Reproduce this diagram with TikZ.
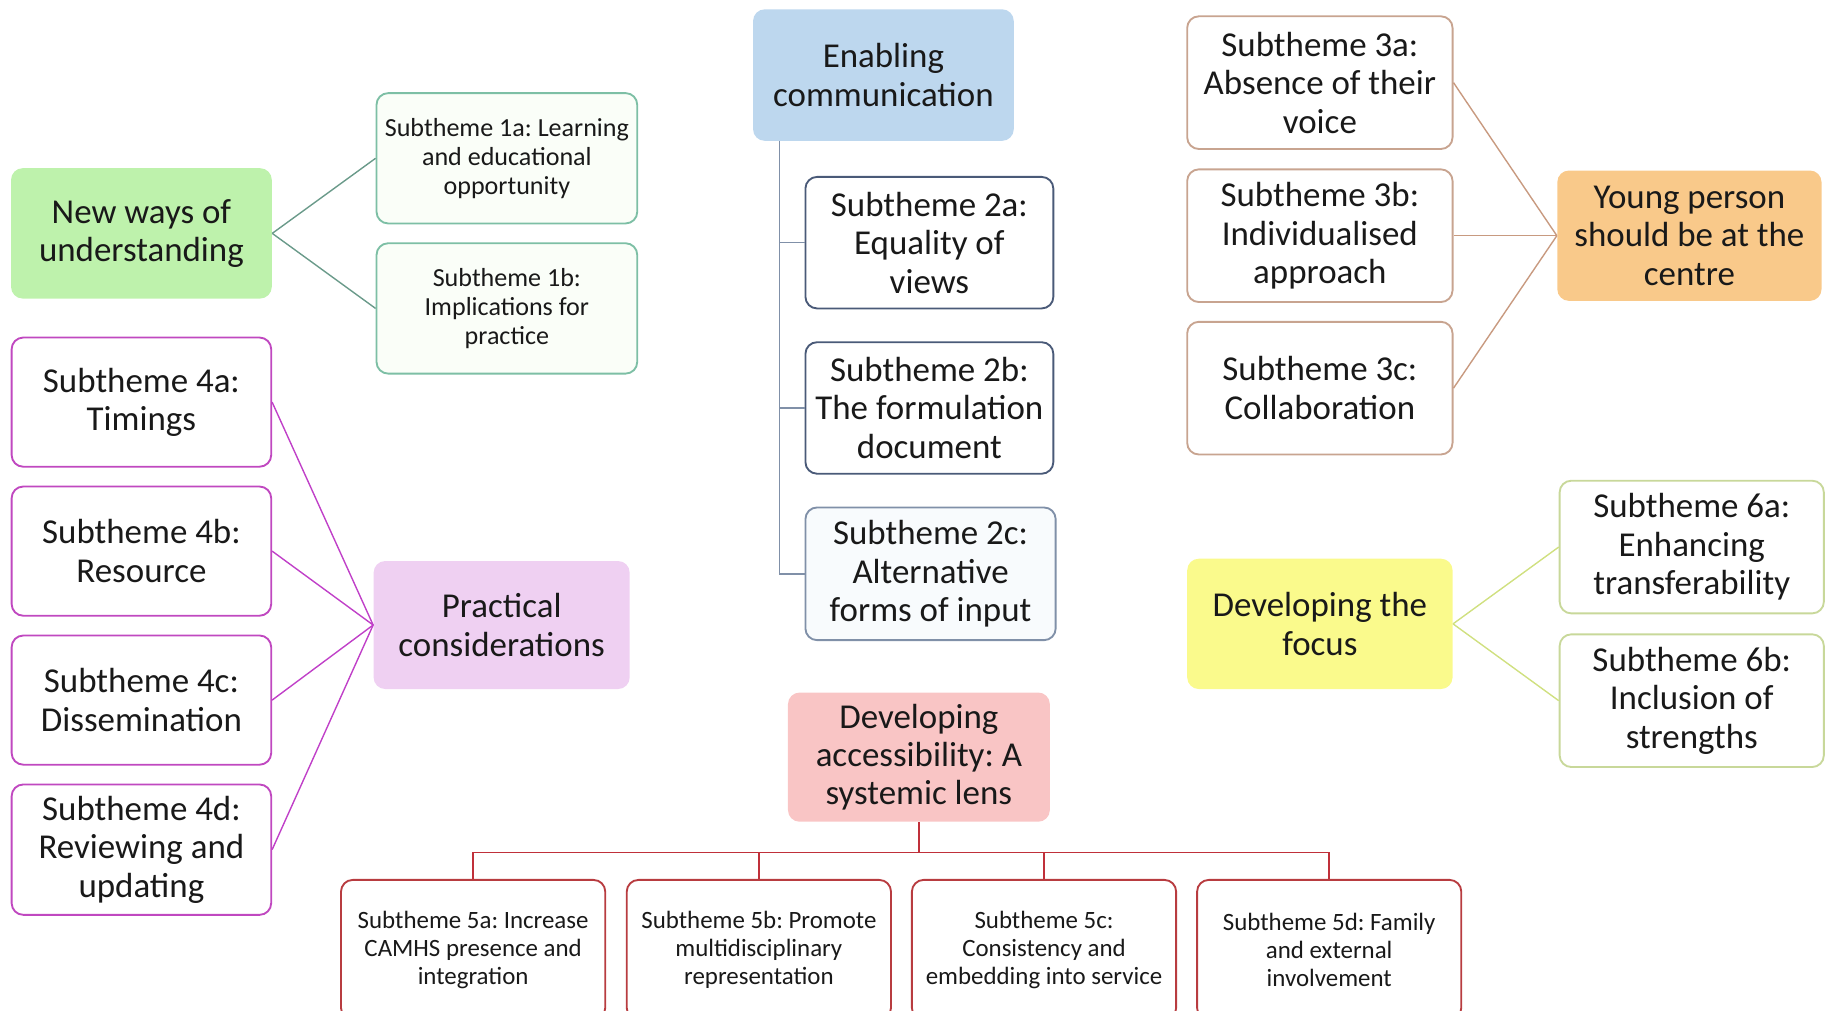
\documentclass[tikz,border=0pt]{standalone}
\usepackage{fontspec}
\setmainfont{Carlito}
\usetikzlibrary{calc}
\frenchspacing
\definecolor{gfill}{RGB}{190,242,172}
\definecolor{gbord}{RGB}{125,191,165}
\definecolor{gline}{RGB}{106,154,138}
\definecolor{bfill}{RGB}{189,215,238}
\definecolor{bbord}{RGB}{74,90,120}
\definecolor{bline}{RGB}{128,144,168}
\definecolor{ofill}{RGB}{249,201,138}
\definecolor{obord}{RGB}{200,164,144}
\definecolor{oline}{RGB}{200,154,128}
\definecolor{pfill}{RGB}{239,208,242}
\definecolor{pbord}{RGB}{192,72,192}
\definecolor{pline}{RGB}{192,64,200}
\definecolor{rfill}{RGB}{249,197,197}
\definecolor{rbord}{RGB}{184,60,64}
\definecolor{rline}{RGB}{192,48,58}
\definecolor{yfill}{RGB}{250,250,140}
\definecolor{ybord}{RGB}{200,216,154}
\definecolor{yline}{RGB}{208,224,128}
\definecolor{txt}{RGB}{25,25,25}
\tikzset{
  base/.style={rounded corners=5pt, align=center, inner sep=0pt, text=txt,
     font=\fontsize{15}{16.5}\selectfont\frenchspacing},
  theme/.style={base, minimum width=112pt, minimum height=56pt},
  sub/.style={base, draw, line width=0.8pt, fill=white, minimum width=112pt, minimum height=56pt},
  smallsub/.style={sub, font=\fontsize{11.2}{12.5}\selectfont\frenchspacing},
  tinysub/.style={sub, font=\fontsize{10.7}{12}\selectfont\frenchspacing, minimum width=113.5pt, minimum height=60pt},
  conn/.style={line width=0.6pt},
}
\begin{document}
\begin{tikzpicture}[x=0.5pt,y=-0.5pt]
\useasboundingbox (0,0) rectangle (1568,868);
\clip (0,0) rectangle (1568,868);

% Theme 1
\node[theme, fill=gfill] (t1) at (121.5,200.5) {New ways of\\understanding};
\node[smallsub, draw=gbord, fill=gfill!8] (s1a) at (435.5,136) {Subtheme 1a: Learning\\and educational\\opportunity};
\node[smallsub, draw=gbord, fill=gfill!8] (s1b) at (435.5,265) {Subtheme 1b:\\Implications for\\practice};
\draw[conn, gline] (t1.east) -- (s1a.west);
\draw[conn, gline] (t1.east) -- (s1b.west);

% Theme 2
\node[theme, fill=bfill, minimum height=56.5pt] (t2) at (759,64.5) {Enabling\\communication};
\node[sub, draw=bbord, minimum width=106.5pt, minimum height=56.5pt] (s2a) at (798.5,208.5) {Subtheme 2a:\\Equality of\\views};
\node[sub, draw=bbord, minimum width=106.5pt, minimum height=56.5pt] (s2b) at (798.5,350.5) {Subtheme 2b:\\The formulation\\document};
\node[sub, draw=bline, fill=bfill!10, minimum width=107.5pt, minimum height=57pt] (s2c) at (799.5,493) {Subtheme 2c:\\Alternative\\forms of input};
\coordinate (t2b) at ($(t2.south west)+(23,0)$);
\draw[conn, bline] (t2b) |- (s2a.west);
\draw[conn, bline] (t2b) |- (s2b.west);
\draw[conn, bline] (t2b) |- (s2c.west);

% Theme 3
\node[theme, fill=ofill, minimum width=113.5pt] (t3) at (1451.5,202.5) {Young person\\should be at the\\centre};
\node[sub, draw=obord, minimum width=114pt, minimum height=57pt] (s3a) at (1134,71) {Subtheme 3a:\\Absence of their\\voice};
\node[sub, draw=obord, minimum width=114pt, minimum height=57pt] (s3b) at (1134,202.5) {Subtheme 3b:\\Individualised\\approach};
\node[sub, draw=obord, minimum width=114pt, minimum height=57pt] (s3c) at (1134,333.5) {Subtheme 3c:\\Collaboration};
\draw[conn, oline] (t3.west) -- (s3a.east);
\draw[conn, oline] (t3.west) -- (s3b.east);
\draw[conn, oline] (t3.west) -- (s3c.east);

% Theme 4
\node[theme, fill=pfill, minimum width=110pt, minimum height=55pt] (t4) at (431,537) {Practical\\considerations};
\node[sub, draw=pbord, minimum width=111.5pt, minimum height=55.5pt] (s4a) at (121.5,345.5) {Subtheme 4a:\\Timings};
\node[sub, draw=pbord, minimum width=111.5pt, minimum height=55.5pt] (s4b) at (121.5,473.5) {Subtheme 4b:\\Resource};
\node[sub, draw=pbord, minimum width=111.5pt, minimum height=55.5pt] (s4c) at (121.5,601.5) {Subtheme 4c:\\Dissemination};
\node[sub, draw=pbord, minimum width=111.5pt, minimum height=56pt] (s4d) at (121.5,730) {Subtheme 4d:\\Reviewing and\\updating};
\draw[conn, pline] (t4.west) -- (s4a.east);
\draw[conn, pline] (t4.west) -- (s4b.east);
\draw[conn, pline] (t4.west) -- (s4c.east);
\draw[conn, pline] (t4.west) -- (s4d.east);

% Theme 5
\node[theme, fill=rfill, minimum width=112.5pt, minimum height=55.5pt] (t5) at (789.5,650.5) {Developing\\accessibility: A\\systemic lens};
\node[tinysub, draw=rbord] (s5a) at (406.5,816) {Subtheme 5a: Increase\\CAMHS presence and\\integration};
\node[tinysub, draw=rbord] (s5b) at (652,816) {Subtheme 5b: Promote\\multidisciplinary\\representation};
\node[tinysub, draw=rbord] (s5c) at (897,816) {Subtheme 5c:\\Consistency and\\embedding into service};
\node[tinysub, draw=rbord] (s5d) at (1142,816) {Subtheme 5d: Family\\and external\\involvement};
\coordinate (bus) at ($(t5.south)+(0,26)$);
\draw[conn, rline] (t5.south) -- (bus);
\draw[conn, rline] (s5a.north) |- (bus);
\draw[conn, rline] (s5b.north) |- (bus);
\draw[conn, rline] (s5c.north) |- (bus);
\draw[conn, rline] (s5d.north) |- (bus);

% Theme 6
\node[theme, fill=yfill, minimum width=114pt, minimum height=56pt] (t6) at (1134,536) {Developing the\\focus};
\node[sub, draw=ybord, minimum width=113.5pt, minimum height=57pt] (s6a) at (1453.5,470) {Subtheme 6a:\\Enhancing\\transferability};
\node[sub, draw=ybord, minimum width=113.5pt, minimum height=57pt] (s6b) at (1453.5,602) {Subtheme 6b:\\Inclusion of\\strengths};
\draw[conn, yline] (t6.east) -- (s6a.west);
\draw[conn, yline] (t6.east) -- (s6b.west);
\end{tikzpicture}
\end{document}
